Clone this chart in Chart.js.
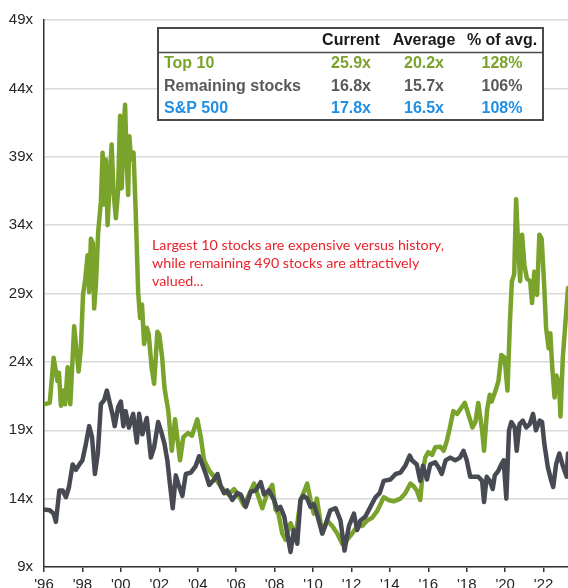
<!DOCTYPE html>
<html>
<head>
<meta charset="utf-8">
<script src="https://cdn.jsdelivr.net/npm/chart.js@4/dist/chart.umd.min.js"></script>
<style>
  html, body { margin: 0; padding: 0; background: #ffffff; }
  #wrap { width: 568px; height: 588px; }
</style>
</head>
<body>
<div id="wrap"><canvas id="c" width="568" height="588"></canvas></div>
<script>
// ---------------- DATA ----------------
const top10Years = [1996.0,1996.3,1996.5,1996.7,1996.78,1996.88,1996.98,1997.1,1997.23,1997.37,1997.5,1997.57,1997.68,1997.8,1997.92,
  1998.03,1998.15,1998.27,1998.35,1998.44,1998.54,1998.61,1998.7,1998.82,1998.96,1999.05,1999.12,1999.22,1999.31,1999.4,1999.52,1999.62,1999.74,1999.85,1999.96,
  2000.05,2000.13,2000.22,2000.3,2000.38,2000.44,2000.53,2000.66,2000.78,2000.9,2001.0,2001.1,2001.21,2001.35,2001.45,2001.6,2001.73,2001.9,
  2002.0,2002.15,2002.27,2002.47,2002.65,2002.82,2003.08,2003.25,2003.5,2003.7,2003.98,2004.16,2004.33,2004.6,2004.85,2005.1,2005.37,2005.6,2005.89,
  2006.15,2006.4,2006.67,2006.93,2007.1,2007.36,2007.62,2007.88,2008.05,2008.2,2008.4,2008.57,2008.83,2009.1,2009.35,2009.5,2009.7,2009.87,
  2010.04,2010.2,2010.48,2010.74,2011.0,2011.26,2011.52,2011.78,2012.04,2012.3,2012.56,2012.82,2013.08,2013.34,2013.68,2013.93,
  2014.2,2014.55,2014.8,2015.07,2015.24,2015.4,2015.58,2015.72,2015.84,2016.0,2016.2,2016.36,2016.62,2016.8,2016.96,
  2017.14,2017.3,2017.5,2017.65,2017.9,2018.1,2018.3,2018.45,2018.6,2018.8,2018.9,2019.06,2019.2,2019.3,2019.5,2019.65,2019.8,2019.97,
  2020.12,2020.25,2020.35,2020.47,2020.57,2020.66,2020.78,2020.88,2021.0,2021.13,2021.3,2021.4,2021.52,2021.66,2021.78,2021.9,
  2022.03,2022.13,2022.26,2022.35,2022.45,2022.57,2022.67,2022.8,2022.88,2023.0,2023.1,2023.27];
const top10Values = [20.9,21.0,24.3,22.6,23.2,20.8,21.9,20.9,23.6,20.9,24.6,26.6,25.0,23.3,25.0,
  28.9,30.1,31.8,29.1,33.0,32.7,27.9,29.6,33.5,35.7,39.3,35.5,38.8,34.0,36.7,39.9,36.4,34.5,36.4,42.0,
  36.7,40.8,42.8,38.8,36.2,40.5,38.8,39.3,34.7,29.1,27.2,28.2,25.3,26.5,26.0,23.6,22.4,26.2,
  26.0,24.3,22.1,20.4,17.5,19.8,16.8,18.5,18.8,18.6,19.8,18.5,16.8,16.05,15.6,15.1,14.6,14.3,14.7,
  14.2,13.5,14.3,15.1,14.4,13.3,14.4,15.0,13.2,12.9,11.45,11.0,12.2,11.3,13.9,14.4,15.1,13.9,
  12.9,14.0,11.45,12.4,12.0,11.45,10.7,11.0,11.45,12.0,12.0,12.4,12.6,13.1,14.1,13.9,
  13.8,14.0,14.4,15.1,14.9,14.6,13.9,16.05,17.0,17.4,17.2,17.75,17.8,17.5,18.2,
  19.3,20.4,20.2,20.5,21.0,20.1,19.2,19.6,21.0,19.0,17.5,20.5,21.6,21.1,21.9,22.6,24.5,24.3,
  21.9,27.0,29.9,30.4,35.9,33.0,29.9,33.3,31.1,30.1,29.9,28.3,30.6,28.9,33.3,33.0,
  29.6,26.5,25.0,26.1,23.6,21.4,23.0,22.4,20.0,24.3,26.2,29.4];

const restYears = [1996.0,1996.3,1996.5,1996.62,1996.8,1996.97,1997.14,1997.3,1997.49,1997.66,1997.84,1998.0,1998.18,1998.35,1998.5,1998.65,1998.8,1998.96,
  1999.13,1999.27,1999.44,1999.56,1999.68,1999.86,2000.0,2000.13,2000.25,2000.42,2000.64,2000.83,2000.95,2001.12,2001.35,2001.56,2001.73,2001.94,
  2002.1,2002.27,2002.42,2002.55,2002.7,2002.86,2003.03,2003.2,2003.38,2003.64,2003.9,2004.07,2004.24,2004.42,2004.6,2004.85,2005.03,2005.2,2005.37,2005.54,2005.8,
  2006.06,2006.24,2006.5,2006.76,2007.02,2007.28,2007.45,2007.7,2007.97,2008.14,2008.3,2008.5,2008.66,2008.83,2009.0,2009.18,2009.35,2009.5,2009.7,2009.87,
  2010.04,2010.2,2010.48,2010.65,2010.9,2011.18,2011.43,2011.64,2011.87,2012.13,2012.3,2012.47,2012.73,2012.99,2013.25,2013.47,2013.68,
  2014.03,2014.3,2014.55,2014.8,2015.03,2015.15,2015.4,2015.58,2015.72,2015.93,2016.1,2016.36,2016.53,2016.7,2016.9,
  2017.14,2017.4,2017.65,2017.83,2018.0,2018.18,2018.44,2018.6,2018.8,2018.9,2019.04,2019.2,2019.35,2019.46,2019.63,2019.8,2019.92,
  2020.06,2020.2,2020.32,2020.5,2020.6,2020.75,2020.92,2021.1,2021.28,2021.45,2021.6,2021.8,2021.92,
  2022.04,2022.22,2022.4,2022.5,2022.65,2022.82,2023.0,2023.2,2023.27];
const restValues = [13.2,13.15,12.9,12.3,14.6,14.6,14.1,14.85,16.5,16.1,16.5,16.8,18.0,19.3,18.5,15.8,17.3,20.9,
  21.2,21.9,20.9,20.2,19.3,20.7,21.1,19.3,20.4,19.2,20.2,18.1,20.2,18.7,19.9,17.0,17.75,19.6,
  18.9,18.0,16.8,15.1,13.3,15.7,14.9,14.2,15.8,15.9,16.4,17.1,16.5,15.8,15.0,15.4,15.8,14.9,14.4,14.6,13.9,
  14.4,14.3,13.4,14.5,14.6,15.2,14.3,14.6,13.9,13.2,13.4,12.7,11.45,10.1,11.7,10.7,13.9,14.2,14.0,13.4,
  13.6,12.9,11.45,12.1,13.15,13.3,12.4,10.2,12.0,12.9,11.7,12.4,12.7,13.4,14.1,14.4,15.3,
  15.4,15.8,15.9,16.4,17.15,16.8,16.5,15.3,16.4,15.4,16.5,16.65,16.3,15.8,16.8,
  17.0,16.8,17.0,17.5,16.8,15.6,15.6,15.6,15.3,13.75,15.6,15.3,14.7,15.7,16.0,16.5,16.8,
  14.0,19.0,19.6,19.2,17.5,19.45,19.7,19.2,19.45,20.2,19.0,19.7,19.6,
  18.0,16.3,15.3,14.85,16.5,17.3,16.4,15.6,17.3];

const seriesNames = ['Top 10', 'Remaining stocks'];
const yTickValues = [9, 14, 19, 24, 29, 34, 39, 44, 49];
const xTickYears = [1996, 1998, 2000, 2002, 2004, 2006, 2008, 2010, 2012, 2014, 2016, 2018, 2020, 2022];
const xRange = [1996, 2023.27];

const tableColumns = ['Current', 'Average', '% of avg.'];
const tableRows = ['Top 10', 'Remaining stocks', 'S&P 500'];
const currentVals = ['25.9x', '16.8x', '17.8x'];
const averageVals = ['20.2x', '15.7x', '16.5x'];
const pctVals = ['128%', '106%', '108%'];

const noteLines = ['Largest 10 stocks are expensive versus history,',
                   'while remaining 490 stocks are attractively',
                   'valued...'];

// ---------------- STYLE ----------------
const GREEN = '#7aa32c';
const GRAY = '#474a52';
const GRAYTXT = '#595959';
const BLUE = '#1f8fe6';
const RED = '#e8232b';
const rowColors = [GREEN, GRAYTXT, BLUE];

const toPoints = (xs, ys) => xs.map((x, i) => ({ x: x, y: ys[i] }));

const overlayPlugin = {
  id: 'overlay',
  afterDraw(chart) {
    const ctx = chart.ctx;
    ctx.save();
    // Table box
    const bx = 158, by = 28, bw = 385, bh = 92;
    ctx.fillStyle = '#ffffff';
    ctx.fillRect(bx, by, bw, bh);
    ctx.strokeStyle = '#4a4a4a';
    ctx.lineWidth = 2;
    ctx.strokeRect(bx, by, bw, bh);
    ctx.lineWidth = 1.5;
    ctx.beginPath();
    ctx.moveTo(bx, 52.5); ctx.lineTo(bx + bw, 52.5);
    ctx.stroke();

    const colX = [351, 424, 502];
    ctx.font = 'bold 16px "Liberation Sans", Arial, sans-serif';
    ctx.textBaseline = 'middle';
    ctx.textAlign = 'center';
    ctx.fillStyle = '#1a1a1a';
    tableColumns.forEach((t, i) => ctx.fillText(t, colX[i], 41));

    const rowY = [64, 87, 109];
    tableRows.forEach((r, i) => {
      ctx.fillStyle = rowColors[i];
      ctx.textAlign = 'left';
      ctx.fillText(r, 164, rowY[i]);
      ctx.textAlign = 'center';
      ctx.fillText(currentVals[i], colX[0], rowY[i]);
      ctx.fillText(averageVals[i], colX[1], rowY[i]);
      ctx.fillText(pctVals[i], colX[2], rowY[i]);
    });

    // Note text
    ctx.font = '14px Lato, "Open Sans", sans-serif';
    const w = ctx.measureText(noteLines[0]).width;
    const fs = 14 * 292 / w;
    ctx.font = fs.toFixed(2) + 'px Lato, "Open Sans", sans-serif';
    ctx.fillStyle = RED;
    ctx.textAlign = 'left';
    ctx.textBaseline = 'middle';
    noteLines.forEach((l, i) => ctx.fillText(l, 152, 245 + i * 18));
    ctx.restore();
  }
};

new Chart(document.getElementById('c'), {
  type: 'line',
  data: {
    datasets: [
      {
        label: seriesNames[0],
        data: toPoints(top10Years, top10Values),
        borderColor: GREEN,
        borderWidth: 4.5,
        order: 2
      },
      {
        label: seriesNames[1],
        data: toPoints(restYears, restValues),
        borderColor: GRAY,
        borderWidth: 4.5,
        order: 1
      }
    ]
  },
  options: {
    responsive: false,
    animation: false,
    layout: { padding: { top: 17, right: 0, bottom: 0, left: 0 } },
    elements: {
      point: { radius: 0 },
      line: { tension: 0, borderJoinStyle: 'round', borderCapStyle: 'round' }
    },
    plugins: { legend: { display: false }, tooltip: { enabled: false } },
    scales: {
      x: {
        type: 'linear',
        min: xRange[0],
        max: xRange[1],
        afterBuildTicks: (s) => { s.ticks = xTickYears.map(v => ({ value: v })); },
        afterFit: (s) => { s.height = 21; },
        ticks: {
          autoSkip: false,
          maxRotation: 0,
          padding: 4,
          color: '#262626',
          font: { family: '"Liberation Sans", Arial, sans-serif', size: 15 },
          callback: (v) => "'" + String(v).slice(2)
        },
        grid: { drawOnChartArea: false, drawTicks: true, tickLength: 5, color: '#333333', lineWidth: 1.5 },
        border: { display: true, color: '#333333', width: 1.5 }
      },
      y: {
        type: 'linear',
        min: yTickValues[0],
        max: yTickValues[yTickValues.length - 1],
        afterBuildTicks: (s) => { s.ticks = yTickValues.map(v => ({ value: v })); },
        afterFit: (s) => { s.width = 44; },
        ticks: {
          padding: 11,
          color: '#262626',
          font: { family: '"Liberation Sans", Arial, sans-serif', size: 15 },
          callback: (v) => v + 'x'
        },
        grid: { drawTicks: false, color: '#d9d9d9', lineWidth: 1.5 },
        border: { display: true, color: '#333333', width: 1.5 }
      }
    }
  },
  plugins: [overlayPlugin]
});
</script>
</body>
</html>
